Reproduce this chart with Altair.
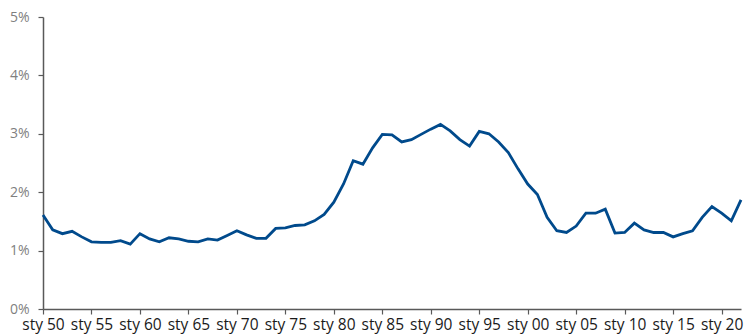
import altair as alt
import pandas as pd

years = list(range(1950, 2023))
values = [
    1.61, 1.355, 1.29, 1.33, 1.235, 1.15, 1.14, 1.14, 1.17, 1.11,
    1.29, 1.20, 1.15, 1.22, 1.20, 1.16, 1.15, 1.20, 1.18, 1.26,
    1.34, 1.27, 1.21, 1.21, 1.38, 1.39, 1.43, 1.44, 1.51, 1.62,
    1.83, 2.14, 2.54, 2.48, 2.76, 2.99, 2.98, 2.86, 2.90, 2.99,
    3.08, 3.16, 3.05, 2.90, 2.79, 3.04, 3.00, 2.86, 2.68, 2.40,
    2.14, 1.96, 1.57, 1.34, 1.31, 1.42, 1.64, 1.64, 1.71, 1.30,
    1.31, 1.47, 1.355, 1.31, 1.31, 1.235, 1.29, 1.34, 1.57, 1.755,
    1.64, 1.51, 1.87,
]
x_ticks = list(range(1950, 2021, 5))
y_ticks = [0, 1, 2, 3, 4, 5]

df = pd.DataFrame({"year": years, "value": values})

chart = (
    alt.Chart(df)
    .mark_line(color="#004a8c", strokeWidth=2.8)
    .encode(
        x=alt.X(
            "year:Q",
            scale=alt.Scale(domain=[1950, 2022], nice=False, zero=False),
            axis=alt.Axis(
                values=x_ticks,
                labelExpr="'sty ' + substring(toString(datum.value), 2)",
                title=None,
                grid=False,
                tickSize=5,
                tickColor="#595959",
                domainColor="#595959",
                domainWidth=1.5,
                tickWidth=1.2,
                labelFont="Open Sans",
                labelFontSize=15.5,
                labelColor="#1a1a1a",
                labelPadding=3,
                labelFlush=False,
                labelOverlap=False,
            ),
        ),
        y=alt.Y(
            "value:Q",
            scale=alt.Scale(domain=[0, 5], nice=False),
            axis=alt.Axis(
                values=y_ticks,
                labelExpr="datum.value + '%'",
                title=None,
                grid=False,
                tickSize=5,
                tickColor="#595959",
                domainColor="#595959",
                domainWidth=1.5,
                tickWidth=1.2,
                labelFont="Open Sans",
                labelFontSize=14,
                labelColor="#7f7f7f",
                labelPadding=9,
            ),
        ),
    )
    .properties(
        width=698,
        height=292,
        autosize=alt.AutoSizeParams(type="none"),
        padding={"left": 43, "top": 17, "right": 3, "bottom": 27},
    )
    .configure_view(stroke=None)
)

chart.save("out.html", embed_options={"renderer": "svg", "actions": False})
